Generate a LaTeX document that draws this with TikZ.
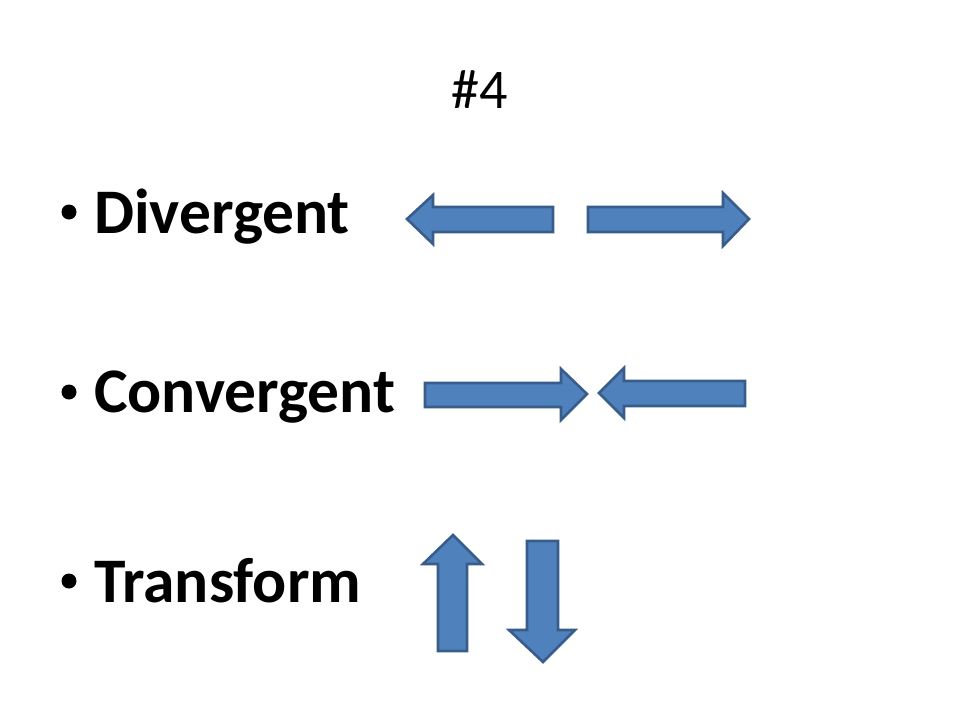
\documentclass[tikz,border=0pt]{standalone}
\usepackage{fontspec}
\setmainfont{Carlito}
\definecolor{arrfill}{HTML}{4F81BD}
\definecolor{arrdraw}{HTML}{385D8A}
\begin{document}
\begin{tikzpicture}[x=1pt,y=-1pt,
  blockarrow/.style={fill=arrfill,draw=arrdraw,line width=2.6pt,line join=miter},
  itemtext/.style={anchor=base west,inner sep=0pt,font=\fontsize{63.5}{76}\selectfont\bfseries},
  titletext/.style={anchor=base,inner sep=0pt,font=\fontsize{56}{66}\selectfont},
  bulletdot/.style={circle,fill=black,inner sep=0pt,minimum size=15pt}]
\useasboundingbox (0,0) rectangle (960,720);
\fill[white] (0,0) rectangle (960,720);
\node[titletext] (title) at (480,108) {\#4};
% bullets
\node[bulletdot] (b1) at (69,212) {};
\node[bulletdot] (b2) at (69,392) {};
\node[bulletdot] (b3) at (69,581) {};
\node[itemtext] (t1) at (94,233) {Divergent};
\node[itemtext] (t2) at (94,412) {Convergent};
\node[itemtext] (t3) at (94,602) {Transform};
% divergent
\draw[blockarrow] (407,219) -- (433,195) -- (433,207) -- (553,207) -- (553,232) -- (433,232) -- (433,244) -- cycle;
\draw[blockarrow] (749,219) -- (723,193) -- (723,207) -- (588,207) -- (588,232) -- (723,232) -- (723,246) -- cycle;
% convergent
\draw[blockarrow] (587,394) -- (561,369) -- (561,383) -- (425,383) -- (425,407) -- (561,407) -- (561,420) -- cycle;
\draw[blockarrow] (599,393) -- (624,368) -- (624,381) -- (745,381) -- (745,406) -- (624,406) -- (624,418) -- cycle;
% transform
\draw[blockarrow] (453,535) -- (482,564) -- (467,564) -- (467,651) -- (438,651) -- (438,564) -- (423,564) -- cycle;
\draw[blockarrow] (543,662) -- (575,630) -- (558,630) -- (558,541) -- (527,541) -- (527,630) -- (509,630) -- cycle;
\end{tikzpicture}
\end{document}
